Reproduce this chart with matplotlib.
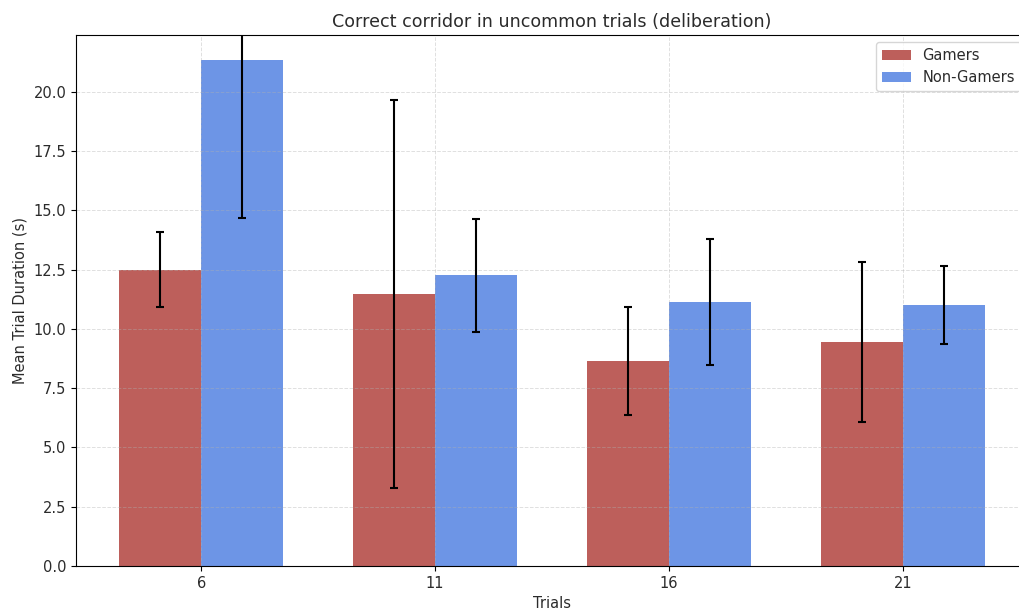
import numpy as np
import matplotlib
matplotlib.use("Agg")
import matplotlib.pyplot as plt

trials = ["6", "11", "16", "21"]
gamers_mean = [12.50, 11.48, 8.65, 9.45]
gamers_err = [1.58, 8.18, 2.28, 3.37]
nongamers_mean = [21.33, 12.27, 11.13, 11.00]
nongamers_err = [6.65, 2.38, 2.66, 1.64]

plt.rcParams["font.size"] = 10.5
plt.rcParams["text.color"] = "#2b2b2b"
plt.rcParams["axes.labelcolor"] = "#2b2b2b"
plt.rcParams["xtick.labelcolor"] = "#2b2b2b"
plt.rcParams["ytick.labelcolor"] = "#2b2b2b"

x = np.arange(len(trials))
width = 0.35

fig = plt.figure(figsize=(10.2, 6.1), dpi=100)
ax = fig.add_axes([76 / 1020, 1 - 566 / 610, (1028 - 76) / 1020, (566 - 35) / 610])

ax.bar(x - width / 2, gamers_mean, width, yerr=gamers_err, capsize=3,
       color="#bd5f5b", label="Gamers", error_kw=dict(elinewidth=1.5, capthick=1.5))
ax.bar(x + width / 2, nongamers_mean, width, yerr=nongamers_err, capsize=3,
       color="#6d95e6", label="Non-Gamers", error_kw=dict(elinewidth=1.5, capthick=1.5))

ax.set_xticks(x)
ax.set_xticklabels(trials)
ax.set_ylim(0, max(nongamers_mean) * 1.05)
ax.set_xlabel("Trials")
ax.set_ylabel("Mean Trial Duration (s)")
ax.set_title("Correct corridor in uncommon trials (deliberation)", fontsize=12.6)
ax.grid(True, linestyle="--", linewidth=0.7, alpha=0.4)
ax.legend(loc="upper right")

fig.savefig("out.png", dpi=100)
